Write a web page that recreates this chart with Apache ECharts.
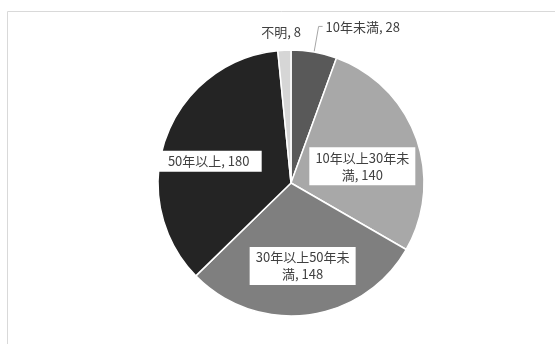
<!DOCTYPE html>
<html>
<head>
<meta charset="utf-8">
<script src="https://cdn.jsdelivr.net/npm/echarts@6/dist/echarts.min.js"></script>
<style>
  html, body { margin: 0; padding: 0; background: #fff; }
  #chart { width: 555px; height: 344px; }
</style>
</head>
<body>
<div id="chart"></div>
<script>
// Categories and counts, clockwise from 12 o'clock
const categories = ['10年未満', '10年以上30年未満', '30年以上50年未満', '50年以上', '不明'];
const counts = [28, 140, 148, 180, 8];
const sliceColors = ['#595959', '#a8a8a8', '#7f7f7f', '#242424', '#d6d6d6'];

// Per-slice label placement tweaks (pixel nudges from the default spot)
const labelNudge = [[0, 1], [6, 7], [3, 14], [-17, 2], [25, 8]];
const outsideLabel = [true, false, false, false, true];

const chart = echarts.init(document.getElementById('chart'), null, { renderer: 'canvas' });

const data = categories.map((name, i) => {
  const item = {
    name: name,
    value: counts[i],
    itemStyle: { color: sliceColors[i] }
  };
  if (outsideLabel[i]) {
    item.label = {
      position: 'outside',
      backgroundColor: 'transparent',
      padding: 0,
      distanceToLabelLine: 3
    };
    item.labelLine = { show: i === 0, length: 26, length2: 4 };
  }
  return item;
});

chart.setOption({
  animation: false,
  graphic: [{
    type: 'rect',
    shape: { x: 7.5, y: 11.5, width: 600, height: 400 },
    style: { fill: 'none', stroke: '#d9d9d9', lineWidth: 1 },
    silent: true
  }],
  series: [{
    type: 'pie',
    center: [291, 183],
    radius: [0, 133],
    startAngle: 90,
    clockwise: true,
    avoidLabelOverlap: false,
    itemStyle: { borderColor: '#ffffff', borderWidth: 1.5 },
    label: {
      show: true,
      position: 'inside',
      formatter: '{b}, {c}',
      fontFamily: '"Noto Sans CJK JP", sans-serif',
      fontSize: 13,
      color: '#404040',
      backgroundColor: '#ffffff',
      padding: [2, 3],
      lineHeight: 17,
      width: 100,
      overflow: 'break',
      align: 'center'
    },
    labelLine: {
      show: false,
      lineStyle: { color: '#a6a6a6', width: 1 }
    },
    labelLayout: function (params) {
      const n = labelNudge[params.dataIndex];
      return { dx: n[0], dy: n[1] };
    },
    data: data
  }]
});
</script>
</body>
</html>
